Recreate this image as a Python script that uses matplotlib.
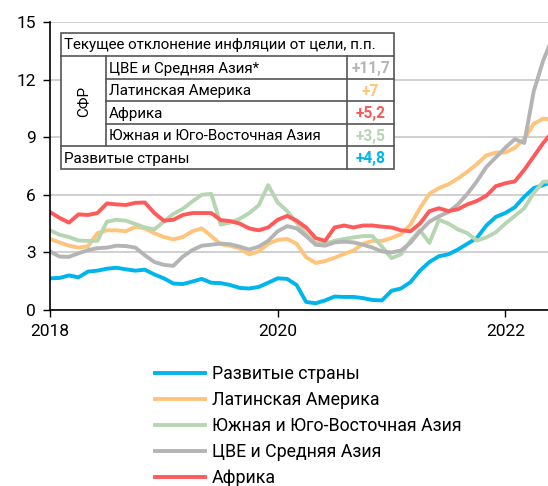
import numpy as np
import matplotlib.pyplot as plt
from matplotlib.patches import Rectangle
from matplotlib.lines import Line2D

plt.rcParams['font.family'] = ['Roboto', 'DejaVu Sans']

# monthly data, Jan 2018 .. Jun 2022 (p.p.)
razvitye = [1.65, 1.67, 1.8, 1.7, 2.0, 2.05, 2.15, 2.2, 2.12, 2.05, 2.1, 1.85,
            1.65, 1.38, 1.35, 1.48, 1.62, 1.42, 1.4, 1.3, 1.15, 1.12, 1.2, 1.42,
            1.65, 1.62, 1.3, 0.42, 0.35, 0.5, 0.7, 0.68, 0.68, 0.62, 0.52, 0.5,
            1.0, 1.12, 1.45, 2.05, 2.5, 2.8, 2.9, 3.15, 3.45, 3.75, 4.4, 4.85,
            5.05, 5.35, 5.9, 6.35, 6.5, 6.7]
latam = [3.7, 3.52, 3.35, 3.25, 3.32, 4.0, 4.15, 4.15, 4.1, 4.33, 4.25, 4.0,
         3.8, 3.68, 3.8, 4.1, 4.25, 3.85, 3.42, 3.35, 3.2, 2.9, 3.05, 3.45,
         3.65, 3.7, 3.45, 2.75, 2.45, 2.55, 2.72, 2.92, 3.1, 3.45, 3.6, 3.6,
         3.75, 3.95, 4.45, 5.3, 6.05, 6.35, 6.55, 6.85, 7.2, 7.6, 8.05, 8.2,
         8.2, 8.45, 8.9, 9.7, 9.97, 9.92]
yuva = [4.15, 3.92, 3.8, 3.62, 3.6, 3.6, 4.6, 4.7, 4.65, 4.48, 4.3, 4.2,
        4.6, 5.0, 5.27, 5.65, 6.0, 6.05, 4.45, 4.55, 4.75, 5.05, 5.45, 6.5,
        5.6, 5.15, 4.55, 3.95, 3.5, 3.45, 3.6, 3.7, 3.78, 3.85, 3.85, 3.3,
        2.7, 2.9, 3.6, 4.15, 3.5, 4.7, 4.5, 4.2, 4.0, 3.62, 3.78, 4.05,
        4.5, 4.9, 5.3, 6.1, 6.68, 6.7]
cve = [3.05, 2.78, 2.77, 2.95, 3.12, 3.22, 3.25, 3.35, 3.33, 3.25, 2.85, 2.5,
       2.35, 2.3, 2.78, 3.12, 3.35, 3.4, 3.46, 3.42, 3.3, 3.15, 3.3, 3.6,
       4.1, 4.37, 4.25, 3.85, 3.4, 3.35, 3.52, 3.56, 3.52, 3.4, 3.25, 3.05,
       3.0, 3.1, 3.5, 4.1, 4.6, 4.88, 5.1, 5.5, 6.05, 6.7, 7.45, 7.95,
       8.45, 8.9, 8.7, 11.4, 13.0, 14.2]
afrika = [5.1, 4.8, 4.55, 4.98, 4.95, 5.05, 5.55, 5.5, 5.47, 5.58, 5.6, 5.05,
          4.65, 4.7, 4.95, 5.05, 5.05, 5.05, 4.68, 4.63, 4.5, 4.25, 4.15, 4.3,
          4.7, 4.9, 4.65, 4.3, 3.75, 3.6, 4.3, 4.4, 4.3, 4.4, 4.4, 4.34,
          4.3, 4.15, 4.1, 4.5, 5.15, 5.3, 5.15, 5.25, 5.5, 5.68, 5.95, 6.45,
          6.6, 6.7, 7.3, 8.0, 8.7, 9.3]

names = ["Развитые страны", "Латинская Америка", "Южная и Юго-Восточная Азия",
         "ЦВЕ и Средняя Азия", "Африка"]
colors = ["#00b4ec", "#ffc47c", "#b6d6b2", "#b4b4b4", "#ff5a5a"]

year_pos = [0, 24, 48]
year_labels = ["2018", "2020", "2022"]

tab_title = "Текущее отклонение инфляции от цели, п.п."
tab_group = "СФР"
tab_rows = ["ЦВЕ и Средняя Азия*", "Латинская Америка", "Африка",
            "Южная и Юго-Восточная Азия"]
tab_vals = ["+11,7", "+7", "+5,2", "+3,5"]
tab_colors = ["#b4b4b4", "#ffc47c", "#f45a5a", "#b6d6b2"]
tab_last = "Развитые страны"
tab_last_val = "+4,8"
tab_last_color = "#00b4ec"

W, H = 548, 486
fig = plt.figure(figsize=(W / 100, H / 100), dpi=100)
ax = fig.add_axes([50 / W, 1 - 310 / H, 498 / W, 288 / H])

for s, c in zip([razvitye, latam, yuva, cve, afrika], colors):
    ax.plot(np.arange(len(s)), s, color=c, lw=2.8, solid_joinstyle='round')

ax.set_xlim(0, 52.5)
ax.set_ylim(0, 15)
ax.set_yticks(range(0, 16, 3))
ax.set_xticks(year_pos)
ax.set_xticklabels(year_labels)
ax.tick_params(labelsize=12.5, length=5, width=1, pad=5)
ax.grid(axis='y', color='#c8c8c8', lw=1.2)
ax.set_axisbelow(True)
for sp in ['top', 'right']:
    ax.spines[sp].set_visible(False)
for sp in ['left', 'bottom']:
    ax.spines[sp].set_linewidth(1.2)


def fx(x):
    return x / W


def fy(y):
    return 1 - y / H


# table box
edge = '#555555'
x0, x1, x2, x3 = 61, 106, 347, 394
ys = [33, 56, 79, 101.5, 124, 146.5, 169]
fig.patches.append(Rectangle((fx(x0), fy(ys[-1])), fx(x3) - fx(x0), fy(ys[0]) - fy(ys[-1]),
                             transform=fig.transFigure, facecolor='white',
                             edgecolor=edge, lw=1.2, zorder=5))


def hline(xa, xb, y):
    fig.lines.append(Line2D([fx(xa), fx(xb)], [fy(y), fy(y)], transform=fig.transFigure,
                            color=edge, lw=1.2, zorder=6))


def vline(x, ya, yb):
    fig.lines.append(Line2D([fx(x), fx(x)], [fy(ya), fy(yb)], transform=fig.transFigure,
                            color=edge, lw=1.2, zorder=6))


hline(x0, x3, ys[1])
for y in ys[2:5]:
    hline(x1, x3, y)
hline(x0, x3, ys[5])
vline(x1, ys[1], ys[5])
vline(x2, ys[1], ys[6])

fs = 10.9
fv = 11.2
fig.text(fx(64), fy((ys[0] + ys[1]) / 2 + 1), tab_title, fontsize=fs, va='center',
         ha='left', zorder=7)
fig.text(fx((x0 + x1) / 2), fy((ys[1] + ys[5]) / 2), tab_group, fontsize=fs,
         rotation=90, va='center', ha='center', zorder=7)
for i in range(4):
    yc = (ys[i + 1] + ys[i + 2]) / 2 + 1
    fig.text(fx(109), fy(yc), tab_rows[i], fontsize=fs, va='center', ha='left', zorder=7)
    fig.text(fx((x2 + x3) / 2), fy(yc), tab_vals[i], fontsize=fv, fontweight='bold',
             color=tab_colors[i], va='center', ha='center', zorder=7)
yc = (ys[5] + ys[6]) / 2 + 1
fig.text(fx(64), fy(yc), tab_last, fontsize=fs, va='center', ha='left', zorder=7)
fig.text(fx((x2 + x3) / 2), fy(yc), tab_last_val, fontsize=fv, fontweight='bold',
         color=tab_last_color, va='center', ha='center', zorder=7)

handles = [Line2D([], [], color=c, lw=2.8) for c in colors]
fig.legend(handles, names, loc='upper left', bbox_to_anchor=(fx(141), fy(351)),
           frameon=False, fontsize=12.8, handlelength=2.8, handletextpad=0.4,
           labelspacing=0.45, borderpad=0.3)

fig.savefig('out.png', dpi=100)
